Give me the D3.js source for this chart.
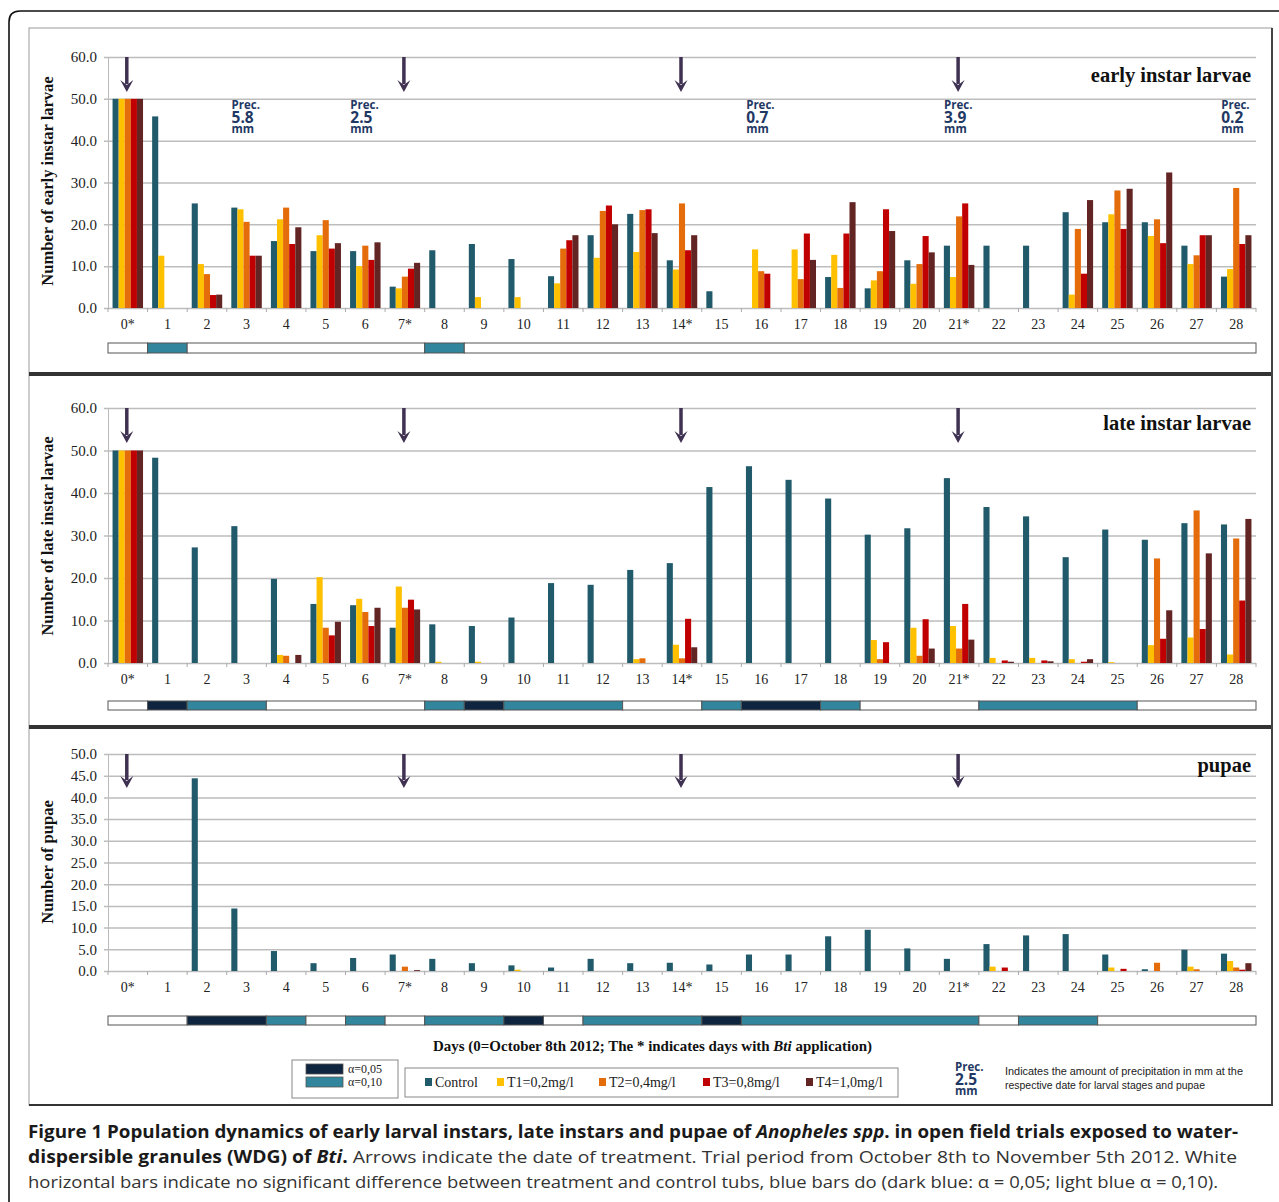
<!DOCTYPE html>
<html lang="en">
<head>
<meta charset="UTF-8">
<title>Population dynamics of Anopheles spp.</title>
<script src="https://cdnjs.cloudflare.com/ajax/libs/d3/7.8.5/d3.min.js"></script>
<style>
    body { margin: 0; background: #fff; }
    svg { display: block; }
</style>
</head>
<body>
<div id="chart"></div>
<script>
// days of the trial (x categories)
const days = ["0*","1","2","3","4","5","6","7*","8","9","10","11","12","13","14*",
              "15","16","17","18","19","20","21*","22","23","24","25","26","27","28"];
const seriesNames = ["Control", "T1=0,2mg/l", "T2=0,4mg/l", "T3=0,8mg/l", "T4=1,0mg/l"];
const seriesColors = ["#215a6b", "#ffc000", "#e46c0a", "#c00000", "#632523"];

// early instar larvae
const earlyC  = [50,45.8,25.0,24.0,16.0,13.6,13.6,5.1,13.8,15.3,11.7,7.6,17.4,22.5,11.4,4.0,0,0,7.4,4.7,11.4,14.9,14.9,14.9,22.9,20.5,20.5,14.9,7.5];
const earlyT1 = [50,12.5,10.5,23.6,21.2,17.4,10.0,4.7,0,2.6,2.6,5.9,12.0,13.4,9.2,0,14.0,14.0,12.7,6.6,5.8,7.4,0,0,3.2,22.4,17.2,10.5,9.3];
const earlyT2 = [50,0,8.1,20.6,24.0,21.0,14.9,7.5,0,0,0,14.2,23.2,23.4,25.0,0,8.8,6.9,4.8,8.8,10.5,21.9,0,0,18.9,28.1,21.2,12.6,28.7];
const earlyT3 = [50,0,3.1,12.5,15.3,14.2,11.5,9.4,0,0,0,16.2,24.5,23.6,13.8,0,8.2,17.8,17.8,23.6,17.2,25.0,0,0,8.2,18.9,15.5,17.4,15.3];
const earlyT4 = [50,0,3.2,12.5,19.3,15.5,15.7,10.8,0,0,0,17.4,20.0,17.9,17.4,0,0,11.5,25.3,18.4,13.3,10.3,0,0,25.8,28.5,32.4,17.4,17.4];

// late instar larvae
const lateC  = [50,48.3,27.2,32.2,19.8,13.9,13.6,8.3,9.1,8.7,10.7,18.8,18.4,21.9,23.5,41.4,46.3,43.1,38.7,30.2,31.7,43.5,36.7,34.5,24.9,31.4,29.0,32.9,32.6];
const lateT1 = [50,0,0,0,1.9,20.2,15.1,18.0,0.3,0.3,0,0,0,0.9,4.3,0,0,0,0,5.4,8.3,8.7,1.2,1.2,0.9,0.2,4.2,6.0,2.0];
const lateT2 = [50,0,0,0,1.7,8.3,12.0,13.0,0,0,0,0,0,1.1,1.1,0,0,0,0,0.9,1.7,3.4,0,0,0,0,24.6,35.9,29.3];
const lateT3 = [50,0,0,0,0,6.5,8.7,14.9,0,0,0,0,0,0,10.4,0,0,0,0,4.9,10.3,13.9,0.6,0.6,0.3,0,5.7,8.0,14.7];
const lateT4 = [50,0,0,0,1.9,9.7,13.0,12.6,0,0,0,0,0,0,3.7,0,0,0,0,0,3.4,5.5,0.3,0.4,0.9,0,12.4,25.8,33.9];

// pupae
const pupaeC  = [0,0,44.4,14.4,4.6,1.8,3.0,3.8,2.8,1.8,1.3,0.8,2.8,1.8,1.9,1.5,3.8,3.8,8.0,9.5,5.2,2.8,6.2,8.2,8.5,3.8,0.4,4.9,4.0];
const pupaeT1 = [0,0,0,0,0,0,0,0,0,0,0.3,0,0,0,0,0,0,0,0,0,0,0,1.0,0,0,0.8,0,1.0,2.3];
const pupaeT2 = [0,0,0,0,0,0,0,1.0,0,0,0,0,0,0,0,0,0,0,0,0,0,0,0,0,0,0,1.9,0.4,0.8];
const pupaeT3 = [0,0,0,0,0,0,0,0,0,0,0,0,0,0,0,0,0,0,0,0,0,0,0.8,0,0,0.5,0,0,0.3];
const pupaeT4 = [0,0,0,0,0,0,0,0.2,0,0,0,0,0,0,0,0,0,0,0,0,0,0,0,0,0,0,0,0,1.8];

// significance per day: 0 = none, 1 = alpha 0,05, 2 = alpha 0,10
const sigEarly = [0,2,0,0,0,0,0,0,2,0,0,0,0,0,0,0,0,0,0,0,0,0,0,0,0,0,0,0,0];
const sigLate  = [0,1,2,2,0,0,0,0,2,1,2,2,2,0,0,2,1,1,2,0,0,0,2,2,2,2,0,0,0];
const sigPupae = [0,0,1,1,2,0,2,0,2,2,1,0,2,2,2,1,2,2,2,2,2,2,0,2,2,0,0,0,0];

// treatments and precipitation
const arrowDays = ["0*", "7*", "14*", "21*"];
const precDays = ["3", "6", "16", "21*", "28"];
const precValues = ["5.8", "2.5", "0.7", "3.9", "0.2"];

const sigColors = ["#ffffff", "#0f243e", "#31859c"];
const arrowColor = "#3f3151";
const precColor = "#1f3864";
const serif = "'Liberation Serif', 'Times New Roman', serif";
const sans = "'Open Sans', 'DejaVu Sans', sans-serif";

const W = 1279, H = 1202;
const svg = d3.select("#chart").append("svg").attr("width", W).attr("height", H);

// outer frame (rounded, open at bottom)
svg.append("path")
    .attr("d", "M9,1202 L9,22 Q9,11 20,11 L1290,11")
    .attr("fill", "none").attr("stroke", "#111").attr("stroke-width", 1.6);

// figure area frame
svg.append("rect").attr("x", 29).attr("y", 28).attr("width", 1243).attr("height", 1077)
    .attr("fill", "none").attr("stroke", "#999").attr("stroke-width", 1);

const xCell = d3.scaleBand().domain(days).range([108, 1256]).padding(0);
const xSeries = d3.scaleBand().domain(d3.range(5))
    .range([xCell.bandwidth() * 0.115, xCell.bandwidth() * 0.885]).padding(0);

const panels = [
    { title: "early instar larvae", ylab: "Number of early instar larvae",
      data: [earlyC, earlyT1, earlyT2, earlyT3, earlyT4], sig: sigEarly,
      top: 57, bottom: 308, max: 60, tickStep: 10, titleY: 82, ylabY: 181,
      labY: 329, sigY: 343, sigH: 10, arrowTip: 92, frameBottom: 374 },
    { title: "late instar larvae", ylab: "Number of late instar larvae",
      data: [lateC, lateT1, lateT2, lateT3, lateT4], sig: sigLate,
      top: 408, bottom: 663, max: 60, tickStep: 10, titleY: 430, ylabY: 536,
      labY: 684, sigY: 701, sigH: 9, arrowTip: 443, frameBottom: 727 },
    { title: "pupae", ylab: "Number of pupae",
      data: [pupaeC, pupaeT1, pupaeT2, pupaeT3, pupaeT4], sig: sigPupae,
      top: 754, bottom: 971, max: 50, tickStep: 5, titleY: 772, ylabY: 862,
      labY: 992, sigY: 1016, sigH: 9, arrowTip: 788, frameBottom: 1105 }
];

panels.forEach((p, pi) => {
    const g = svg.append("g");
    const y = d3.scaleLinear().domain([0, p.max]).range([p.bottom, p.top]);
    const ticks = d3.range(0, p.max + 0.001, p.tickStep);

    // panel shadow border (bottom + right)
    g.append("line").attr("x1", 29).attr("x2", 1273).attr("y1", p.frameBottom).attr("y2", p.frameBottom)
        .attr("stroke", "#333").attr("stroke-width", pi < 2 ? 4 : 2);
    g.append("line").attr("x1", 1272).attr("x2", 1272)
        .attr("y1", pi === 0 ? 28 : panels[pi - 1].frameBottom).attr("y2", p.frameBottom)
        .attr("stroke", "#444").attr("stroke-width", 2);

    // y axis with gridlines
    const yAxis = g.append("g").attr("transform", "translate(108,0)")
        .call(d3.axisLeft(y).tickValues(ticks).tickFormat(d3.format(".1f"))
            .tickSizeInner(-(1256 - 108)).tickSizeOuter(0).tickPadding(11));
    yAxis.select(".domain").attr("stroke", "#bbb");
    yAxis.selectAll(".tick line").attr("x1", -4).attr("stroke", "#bdbdbd").attr("stroke-width", 1.5);
    yAxis.selectAll(".tick text").attr("font-family", serif).attr("font-size", 15).attr("fill", "#222");

    // x tick marks at category boundaries
    g.selectAll("line.xt").data(days.concat(["end"])).enter().append("line")
        .attr("x1", (d, i) => 108 + i * xCell.step()).attr("x2", (d, i) => 108 + i * xCell.step())
        .attr("y1", p.bottom).attr("y2", p.bottom + 4)
        .attr("stroke", "#aaa").attr("stroke-width", 1);

    // x labels
    g.selectAll("text.xl").data(days).enter().append("text")
        .attr("x", d => xCell(d) + xCell.bandwidth() / 2).attr("y", p.labY)
        .attr("text-anchor", "middle").attr("font-family", serif).attr("font-size", 14)
        .attr("fill", "#222").text(d => d);

    // bars
    p.data.forEach((vals, si) => {
        g.selectAll("rect.s" + si).data(vals).enter().append("rect")
            .attr("x", (d, i) => xCell(days[i]) + xSeries(si))
            .attr("width", xSeries.bandwidth())
            .attr("y", d => y(d)).attr("height", d => y(0) - y(d))
            .attr("fill", seriesColors[si]);
    });

    // treatment arrows
    arrowDays.forEach(d => {
        const cx = xCell(d) + xCell.bandwidth() / 2 - 1;
        g.append("line").attr("x1", cx).attr("x2", cx).attr("y1", p.top).attr("y2", p.arrowTip - 8)
            .attr("stroke", arrowColor).attr("stroke-width", 3.5);
        g.append("path")
            .attr("d", `M${cx - 6.5},${p.arrowTip - 12} L${cx},${p.arrowTip} L${cx + 6.5},${p.arrowTip - 12} L${cx},${p.arrowTip - 7} Z`)
            .attr("fill", arrowColor);
    });

    // panel title
    g.append("text").attr("x", 1251).attr("y", p.titleY).attr("text-anchor", "end")
        .attr("font-family", serif).attr("font-weight", "bold").attr("font-size", 20.5)
        .attr("fill", "#111").text(p.title);

    // y axis title
    g.append("text").attr("transform", `translate(53,${p.ylabY}) rotate(-90)`)
        .attr("text-anchor", "middle").attr("font-family", serif).attr("font-weight", "bold")
        .attr("font-size", 16.5).attr("fill", "#111").text(p.ylab);

    // significance bar: merge runs of equal code
    const runs = [];
    p.sig.forEach((s, i) => {
        if (runs.length && runs[runs.length - 1].s === s) runs[runs.length - 1].end = i;
        else runs.push({ s: s, start: i, end: i });
    });
    g.selectAll("rect.sig").data(runs).enter().append("rect")
        .attr("x", r => xCell(days[r.start]))
        .attr("width", r => xCell(days[r.end]) + xCell.bandwidth() - xCell(days[r.start]))
        .attr("y", p.sigY).attr("height", p.sigH)
        .attr("fill", r => sigColors[r.s]).attr("stroke", "#555").attr("stroke-width", 1);
});

// precipitation annotations (early instar panel)
function precLabel(x0, yTop, value) {
    svg.append("text").attr("x", x0).attr("y", yTop).attr("font-family", sans)
        .attr("font-weight", "bold").attr("font-size", 11.5).attr("fill", precColor).text("Prec.");
    svg.append("text").attr("x", x0).attr("y", yTop + 14).attr("font-family", sans)
        .attr("font-weight", "bold").attr("font-size", 15.5).attr("fill", precColor).text(value);
    svg.append("text").attr("x", x0).attr("y", yTop + 24).attr("font-family", sans)
        .attr("font-weight", "bold").attr("font-size", 11.5).attr("fill", precColor).text("mm");
}
precDays.forEach((d, i) => precLabel(xCell(d) + xCell.bandwidth() / 2 - 15, 109, precValues[i]));

// x axis title
const xt = svg.append("text").attr("x", 433).attr("y", 1051)
    .attr("font-family", serif).attr("font-weight", "bold").attr("font-size", 14).attr("fill", "#111")
    .attr("textLength", 439).attr("lengthAdjust", "spacingAndGlyphs");
xt.append("tspan").text("Days (0=October 8th 2012; The * indicates days with ");
xt.append("tspan").attr("font-style", "italic").text("Bti");
xt.append("tspan").text(" application)");

// significance legend
svg.append("rect").attr("x", 292).attr("y", 1060).attr("width", 106).attr("height", 38)
    .attr("fill", "#fff").attr("stroke", "#888");
[["α=0,05", 1], ["α=0,10", 2]].forEach(([lab, s], i) => {
    svg.append("rect").attr("x", 306).attr("y", 1064 + i * 13).attr("width", 37).attr("height", 10)
        .attr("fill", sigColors[s]).attr("stroke", "#555").attr("stroke-width", 0.8);
    svg.append("text").attr("x", 348).attr("y", 1073 + i * 13)
        .attr("font-family", serif).attr("font-size", 12).attr("fill", "#222").text(lab);
});

// series legend
svg.append("rect").attr("x", 405).attr("y", 1068).attr("width", 493).attr("height", 29)
    .attr("fill", "#fff").attr("stroke", "#888");
const legendX = [425, 497, 599, 703, 806];
seriesNames.forEach((n, i) => {
    svg.append("rect").attr("x", legendX[i]).attr("y", 1078).attr("width", 7).attr("height", 8)
        .attr("fill", seriesColors[i]);
    svg.append("text").attr("x", legendX[i] + 10).attr("y", 1087)
        .attr("font-family", serif).attr("font-size", 14).attr("fill", "#222").text(n);
});

// precipitation legend
precLabel(955, 1071, "2.5");
["Indicates the amount  of precipitation in mm at the", "respective date for larval stages and pupae"]
    .forEach((s, i) => {
        svg.append("text").attr("x", 1005).attr("y", 1075 + i * 14)
            .attr("font-family", "'Liberation Sans Narrow', 'Liberation Sans', sans-serif")
            .attr("font-size", 11).attr("fill", "#222")
            .attr("textLength", i === 0 ? 238 : 200).attr("lengthAdjust", "spacingAndGlyphs")
            .text(s);
    });

// caption
const c1 = svg.append("text").attr("x", 28).attr("y", 1138).attr("font-family", sans)
    .attr("font-size", 17).attr("font-weight", "bold").attr("fill", "#1a1a1a")
    .attr("textLength", 1210).attr("lengthAdjust", "spacingAndGlyphs");
c1.append("tspan").text("Figure 1 Population dynamics of early larval instars, late instars and pupae of ");
c1.append("tspan").attr("font-style", "italic").text("Anopheles spp");
c1.append("tspan").text(". in open field trials exposed to water-");

const c2 = svg.append("text").attr("x", 28).attr("y", 1163).attr("font-family", sans)
    .attr("font-size", 17).attr("fill", "#333")
    .attr("textLength", 1209).attr("lengthAdjust", "spacingAndGlyphs");
c2.append("tspan").attr("font-weight", "bold").attr("fill", "#1a1a1a").text("dispersible granules (WDG) of ");
c2.append("tspan").attr("font-weight", "bold").attr("font-style", "italic").attr("fill", "#1a1a1a").text("Bti");
c2.append("tspan").attr("font-weight", "bold").attr("fill", "#1a1a1a").text(".");
c2.append("tspan").text(" Arrows indicate the date of treatment. Trial period from October 8th to November 5th 2012. White");

svg.append("text").attr("x", 28).attr("y", 1188).attr("font-family", sans)
    .attr("font-size", 17).attr("fill", "#333")
    .attr("textLength", 1190).attr("lengthAdjust", "spacingAndGlyphs")
    .text("horizontal bars indicate no significant difference between treatment and control tubs, blue bars do (dark blue: α = 0,05; light blue α = 0,10).");
</script>
</body>
</html>
